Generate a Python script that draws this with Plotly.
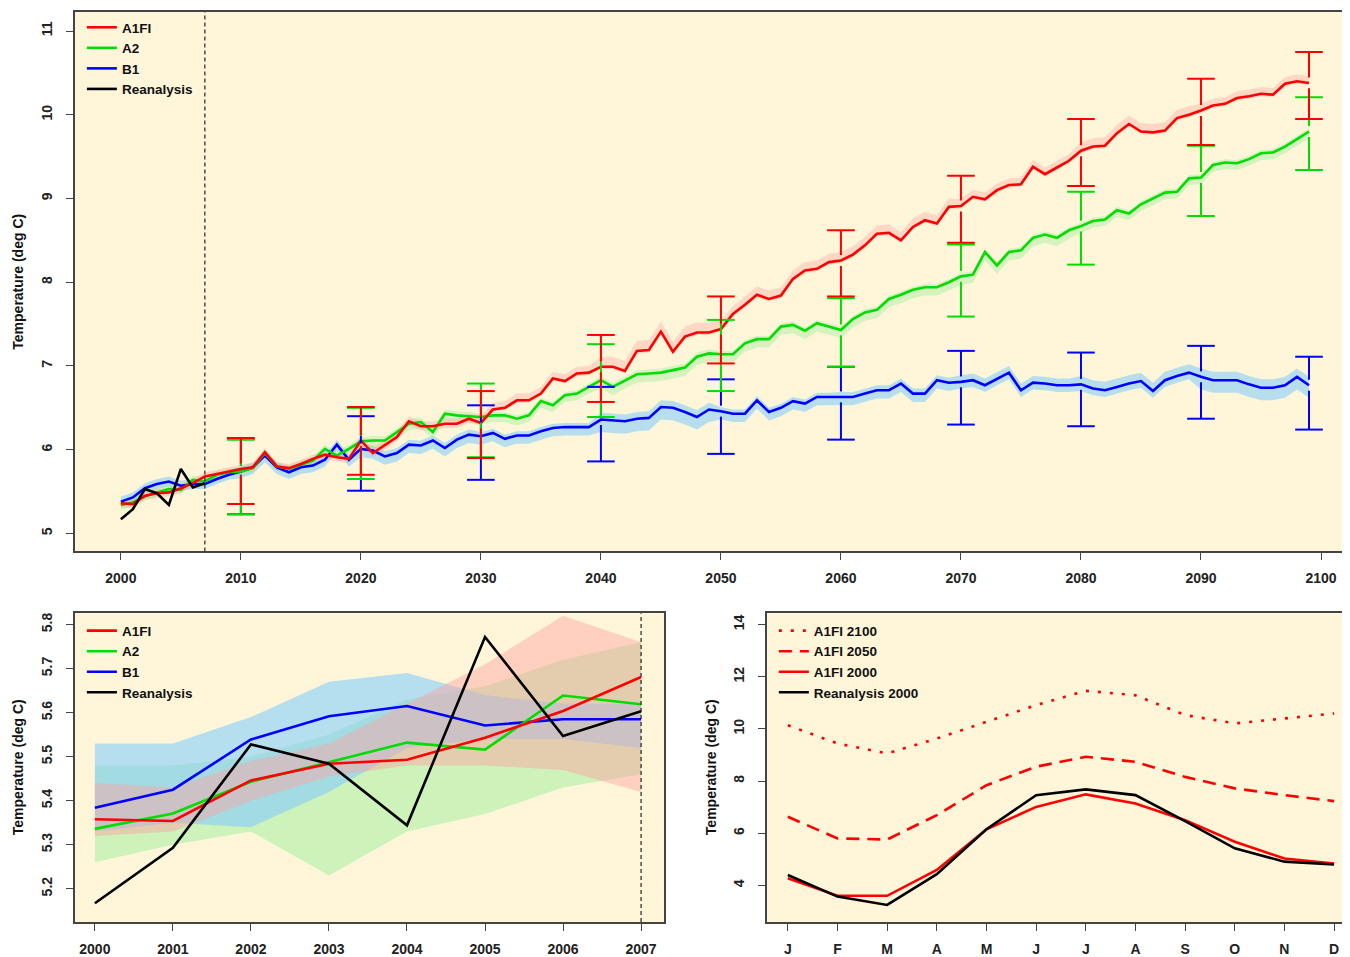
import plotly.graph_objects as go

# ---------------- data: annual mean temperature 2000-2099 ----------------
years = list(range(2000, 2100))
a1fi = [5.36, 5.35, 5.45, 5.48, 5.49, 5.54, 5.60, 5.68, 5.71, 5.74,
        5.77, 5.79, 5.97, 5.80, 5.78, 5.83, 5.89, 5.94, 5.91, 5.89,
        6.11, 5.96, 6.05, 6.15, 6.34, 6.28, 6.28, 6.31, 6.31, 6.37,
        6.32, 6.48, 6.50, 6.59, 6.59, 6.67, 6.85, 6.82, 6.91, 6.92,
        6.99, 6.99, 6.94, 7.18, 7.19, 7.41, 7.17, 7.35, 7.40, 7.40,
        7.44, 7.62, 7.73, 7.85, 7.80, 7.84, 8.04, 8.14, 8.16, 8.24,
        8.26, 8.33, 8.44, 8.58, 8.59, 8.50, 8.66, 8.74, 8.70, 8.90,
        8.91, 9.02, 8.99, 9.10, 9.16, 9.17, 9.38, 9.29, 9.37, 9.45,
        9.57, 9.62, 9.63, 9.78, 9.89, 9.80, 9.79, 9.81, 9.96, 10.00,
        10.05, 10.11, 10.13, 10.20, 10.22, 10.25, 10.24, 10.37, 10.40, 10.38]
a2 = [5.34, 5.37, 5.44, 5.49, 5.53, 5.52, 5.64, 5.62, 5.70, 5.73,
      5.74, 5.78, 5.96, 5.80, 5.77, 5.82, 5.87, 6.01, 5.93, 6.01,
      6.10, 6.11, 6.11, 6.21, 6.31, 6.33, 6.21, 6.43, 6.41, 6.40,
      6.39, 6.41, 6.41, 6.37, 6.41, 6.58, 6.53, 6.65, 6.67, 6.75,
      6.83, 6.75, 6.83, 6.90, 6.91, 6.92, 6.95, 6.98, 7.11, 7.15,
      7.14, 7.14, 7.27, 7.32, 7.32, 7.47, 7.49, 7.42, 7.51, 7.47,
      7.43, 7.56, 7.64, 7.67, 7.80, 7.85, 7.91, 7.94, 7.94, 8.00,
      8.07, 8.09, 8.36, 8.20, 8.36, 8.38, 8.53, 8.57, 8.53, 8.62,
      8.67, 8.73, 8.75, 8.86, 8.82, 8.93, 9.00, 9.07, 9.08, 9.24,
      9.25, 9.40, 9.43, 9.42, 9.47, 9.54, 9.55, 9.62, 9.71, 9.80]
b1 = [5.38, 5.43, 5.54, 5.59, 5.62, 5.57, 5.59, 5.59, 5.65, 5.70,
      5.74, 5.79, 5.93, 5.79, 5.73, 5.79, 5.81, 5.88, 6.06, 5.88,
      6.01, 5.99, 5.92, 5.96, 6.06, 6.05, 6.11, 6.02, 6.12, 6.18,
      6.16, 6.20, 6.13, 6.17, 6.17, 6.22, 6.26, 6.27, 6.27, 6.27,
      6.36, 6.35, 6.34, 6.37, 6.38, 6.51, 6.50, 6.45, 6.39, 6.48,
      6.46, 6.43, 6.43, 6.59, 6.45, 6.50, 6.58, 6.55, 6.63, 6.63,
      6.63, 6.63, 6.67, 6.71, 6.71, 6.79, 6.67, 6.67, 6.83, 6.80,
      6.81, 6.83, 6.77, 6.85, 6.92, 6.71, 6.80, 6.79, 6.77, 6.77,
      6.78, 6.73, 6.71, 6.75, 6.79, 6.82, 6.70, 6.83, 6.88, 6.92,
      6.87, 6.83, 6.83, 6.83, 6.78, 6.74, 6.74, 6.77, 6.87, 6.77]

rean_years = list(range(2000, 2008))
reanalysis = [5.17, 5.29, 5.53, 5.48, 5.34, 5.77, 5.55, 5.60]

# ensemble spread (offset above / below the mean, one value per decade)
a1fi_band_up = [0.05, 0.05, 0.06, 0.08, 0.12, 0.10, 0.10, 0.08, 0.10, 0.08]
a1fi_band_dn = [0.05, 0.05, 0.05, 0.03, 0.03, 0.03, 0.03, 0.03, 0.03, 0.03]
a2_band_up = [0.05, 0.05, 0.05, 0.04, 0.05, 0.04, 0.04, 0.04, 0.04, 0.04]
a2_band_dn = [0.05, 0.05, 0.08, 0.08, 0.10, 0.10, 0.10, 0.10, 0.08, 0.08]
b1_band_up = [0.06, 0.06, 0.06, 0.05, 0.08, 0.05, 0.06, 0.08, 0.10, 0.10]
b1_band_dn = [0.06, 0.08, 0.10, 0.10, 0.15, 0.10, 0.10, 0.08, 0.08, 0.15]

# error bars (inter-model range)
ebar_years = [2010, 2020, 2030, 2040, 2050, 2060, 2070, 2080, 2090, 2099]
a1fi_lo = [5.35, 5.70, 5.90, 6.57, 7.03, 7.83, 8.47, 9.15, 9.64, 9.95]
a1fi_hi = [6.14, 6.51, 6.70, 7.37, 7.83, 8.62, 9.27, 9.95, 10.43, 10.75]
a2_lo = [5.23, 5.65, 5.91, 6.39, 6.70, 6.99, 7.59, 8.21, 8.79, 9.34]
a2_hi = [6.12, 6.50, 6.79, 7.26, 7.55, 7.81, 8.45, 9.08, 9.63, 10.21]
b1_lo = [5.23, 5.51, 5.64, 5.86, 5.95, 6.12, 6.30, 6.28, 6.37, 6.24]
b1_hi = [6.13, 6.40, 6.53, 6.75, 6.84, 6.99, 7.18, 7.16, 7.24, 7.11]

# ---------------- zoom 2000-2007 ----------------
zoom_years = list(range(2000, 2008))
a1fi_z = [5.358, 5.354, 5.446, 5.484, 5.493, 5.543, 5.604, 5.681]
a2_z = [5.336, 5.371, 5.443, 5.487, 5.532, 5.516, 5.639, 5.619]
b1_z = [5.384, 5.425, 5.539, 5.592, 5.615, 5.571, 5.585, 5.585]
rean_z = [5.167, 5.293, 5.528, 5.484, 5.344, 5.772, 5.547, 5.603]
a1fi_z_lo = [5.32, 5.33, 5.40, 5.455, 5.48, 5.48, 5.47, 5.42]
a1fi_z_hi = [5.44, 5.43, 5.49, 5.53, 5.62, 5.71, 5.82, 5.76]
a2_z_lo = [5.26, 5.30, 5.33, 5.23, 5.33, 5.37, 5.43, 5.46]
a2_z_hi = [5.48, 5.48, 5.50, 5.55, 5.63, 5.66, 5.72, 5.76]
b1_z_lo = [5.33, 5.35, 5.34, 5.42, 5.52, 5.54, 5.54, 5.52]
b1_z_hi = [5.53, 5.53, 5.59, 5.67, 5.69, 5.64, 5.62, 5.62]

# ---------------- seasonal cycle ----------------
months = list(range(1, 13))
month_labels = ['J', 'F', 'M', 'A', 'M', 'J', 'J', 'A', 'S', 'O', 'N', 'D']
a1fi_2100_m = [10.14, 9.44, 9.06, 9.63, 10.27, 10.91, 11.46, 11.29, 10.53, 10.21, 10.40, 10.59]
a1fi_2050_m = [6.63, 5.80, 5.76, 6.69, 7.84, 8.55, 8.93, 8.74, 8.16, 7.72, 7.46, 7.23]
a1fi_2000_m = [4.27, 3.60, 3.60, 4.59, 6.15, 7.01, 7.49, 7.14, 6.50, 5.67, 5.03, 4.84]
rean_2000_m = [4.40, 3.57, 3.25, 4.43, 6.15, 7.46, 7.68, 7.46, 6.46, 5.42, 4.91, 4.80]

# ---------------- style ----------------
PAGE_OFF = 8                 # default page margin around the figure
W, H = 1350 - PAGE_OFF, 957 - PAGE_OFF
RED, GREEN, BLUE, BLACK = '#FF0000', '#00DD00', '#0000FF', '#000000'
BAND = {RED: 'rgba(255,160,160,0.36)', GREEN: 'rgba(150,238,150,0.40)',
        BLUE: 'rgba(135,206,250,0.60)'}
BAND_Z = {RED: 'rgba(255,160,160,0.45)', GREEN: 'rgba(150,238,150,0.48)',
          BLUE: 'rgba(135,206,250,0.62)'}
BG = '#FFF6DA'
FONT = 'Liberation Sans, Arial, sans-serif'
LW = 2.6
CAP_HALF = 1.15   # years
GAP = 0.065       # deg C


def px_x(p):
    return (p - PAGE_OFF) / W


def px_y(p):
    return 1 - (p - PAGE_OFF) / H


fig = go.Figure()

# top panel bands
for series, up, dn, col in [(b1, b1_band_up, b1_band_dn, BLUE),
                            (a2, a2_band_up, a2_band_dn, GREEN),
                            (a1fi, a1fi_band_up, a1fi_band_dn, RED)]:
    hi = [v + up[(y - 2000) // 10] for y, v in zip(years, series)]
    lo = [v - dn[(y - 2000) // 10] for y, v in zip(years, series)]
    fig.add_trace(go.Scatter(x=years + years[::-1], y=hi + lo[::-1], fill='toself',
                             fillcolor=BAND[col], line=dict(width=0), mode='lines',
                             showlegend=False, hoverinfo='skip', xaxis='x', yaxis='y'))

# top panel lines
for name, series, col, rank in [('B1', b1, BLUE, 3), ('A2', a2, GREEN, 2), ('A1FI', a1fi, RED, 1)]:
    fig.add_trace(go.Scatter(x=years, y=series, mode='lines', name=name,
                             line=dict(color=col, width=LW), legend='legend',
                             legendrank=rank, xaxis='x', yaxis='y'))
fig.add_trace(go.Scatter(x=rean_years, y=reanalysis, mode='lines', name='Reanalysis',
                         line=dict(color=BLACK, width=LW), legend='legend', legendrank=4,
                         xaxis='x', yaxis='y'))

# error bars with a gap around the mean
for series, lo, hi, col in [(b1, b1_lo, b1_hi, BLUE), (a2, a2_lo, a2_hi, GREEN),
                            (a1fi, a1fi_lo, a1fi_hi, RED)]:
    xs, ys = [], []
    for yr, l, h in zip(ebar_years, lo, hi):
        c = series[years.index(yr)]
        if h > c + GAP:
            xs += [yr, yr, None]
            ys += [h, max(c + GAP, l), None]
        if l < c - GAP:
            xs += [yr, yr, None]
            ys += [min(c - GAP, h), l, None]
        for v in (l, h):
            xs += [yr - CAP_HALF, yr + CAP_HALF, None]
            ys += [v, v, None]
    fig.add_trace(go.Scatter(x=xs, y=ys, mode='lines', line=dict(color=col, width=2),
                             showlegend=False, hoverinfo='skip', xaxis='x', yaxis='y'))

# bottom-left bands
for lo, hi, col in [(a2_z_lo, a2_z_hi, GREEN), (b1_z_lo, b1_z_hi, BLUE), (a1fi_z_lo, a1fi_z_hi, RED)]:
    fig.add_trace(go.Scatter(x=zoom_years + zoom_years[::-1], y=hi + lo[::-1], fill='toself',
                             fillcolor=BAND_Z[col], line=dict(width=0), mode='lines',
                             showlegend=False, hoverinfo='skip', xaxis='x2', yaxis='y2'))
for name, series, col, rank in [('B1', b1_z, BLUE, 3), ('A2', a2_z, GREEN, 2), ('A1FI', a1fi_z, RED, 1),
                                ('Reanalysis', rean_z, BLACK, 4)]:
    fig.add_trace(go.Scatter(x=zoom_years, y=series, mode='lines', name=name,
                             line=dict(color=col, width=LW), legend='legend2',
                             legendrank=rank, xaxis='x2', yaxis='y2'))

# bottom-right seasonal cycle
for name, series, col, dash, rank in [
        ('A1FI 2100', a1fi_2100_m, RED, '3px,9px', 1),
        ('A1FI 2050', a1fi_2050_m, RED, '13px,8px', 2),
        ('A1FI 2000', a1fi_2000_m, RED, 'solid', 3),
        ('Reanalysis 2000', rean_2000_m, BLACK, 'solid', 4)]:
    fig.add_trace(go.Scatter(x=months, y=series, mode='lines', name=name,
                             line=dict(color=col, width=LW, dash=dash), legend='legend3',
                             legendrank=rank, xaxis='x3', yaxis='y3'))

tickfont = dict(family=FONT, size=14, color='#222', weight='bold')
axcommon = dict(showline=True, mirror=True, linecolor='#444', linewidth=1.5,
                ticks='outside', ticklen=7, tickwidth=1.3, tickcolor='#444',
                showgrid=False, zeroline=False, tickfont=tickfont)
xcommon = dict(ticklabelstandoff=6, **axcommon)
ycommon = dict(ticklabelstandoff=9, tickangle=-90, **axcommon)

top_y = [px_y(551), px_y(11)]
bot_y = [px_y(922), px_y(613)]

fig.update_layout(
    width=W, height=H, paper_bgcolor='white', plot_bgcolor=BG,
    margin=dict(l=0, r=0, t=0, b=0),
    xaxis=dict(domain=[px_x(75), 1.0], range=[1996.17, 2102.25],
               tickvals=list(range(2000, 2101, 10)), anchor='y', **xcommon),
    yaxis=dict(domain=top_y, range=[4.785, 11.227], tickvals=list(range(5, 12)),
               anchor='x', **ycommon),
    xaxis2=dict(domain=[px_x(75), px_x(665)], range=[1999.744, 2007.294],
                tickvals=zoom_years, anchor='y2', **xcommon),
    yaxis2=dict(domain=bot_y, range=[5.1244, 5.8256],
                tickvals=[5.2, 5.3, 5.4, 5.5, 5.6, 5.7, 5.8], tickformat='.1f',
                anchor='x2', **ycommon),
    xaxis3=dict(domain=[px_x(768), 1.0], range=[0.578, 12.28],
                tickvals=months, ticktext=month_labels, anchor='y3', **xcommon),
    yaxis3=dict(domain=bot_y, range=[2.594, 14.43], tickvals=[4, 6, 8, 10, 12, 14],
                anchor='x3', **ycommon),
)

legfont = dict(family=FONT, size=13.5, color='#111', weight='bold')
legcommon = dict(bgcolor='rgba(0,0,0,0)', font=legfont, xanchor='left', yanchor='top',
                 tracegroupgap=0, itemwidth=30, traceorder='normal')
fig.update_layout(
    legend=dict(x=px_x(82), y=px_y(11), **legcommon),
    legend2=dict(x=px_x(82), y=px_y(615), **legcommon),
    legend3=dict(x=px_x(775), y=px_y(615), **legcommon),
)

# dashed line marking the end of the reanalysis period
end_rean = max(rean_years)
for xr, yr in [('x', 'y domain'), ('x2', 'y2 domain')]:
    fig.add_shape(type='line', x0=end_rean, x1=end_rean, y0=0, y1=1, xref=xr, yref=yr,
                  line=dict(color='#222', width=1.2, dash='4px,3px'))

# y axis titles
title_font = dict(family=FONT, size=14, color='#111', weight='bold')
for x, y in [(18, 281), (18, 767), (712, 767)]:
    fig.add_annotation(text='Temperature (deg C)', x=px_x(x), y=px_y(y), xref='paper',
                       yref='paper', textangle=-90, showarrow=False, font=title_font,
                       xanchor='center', yanchor='middle')

fig.write_html('out.html')
